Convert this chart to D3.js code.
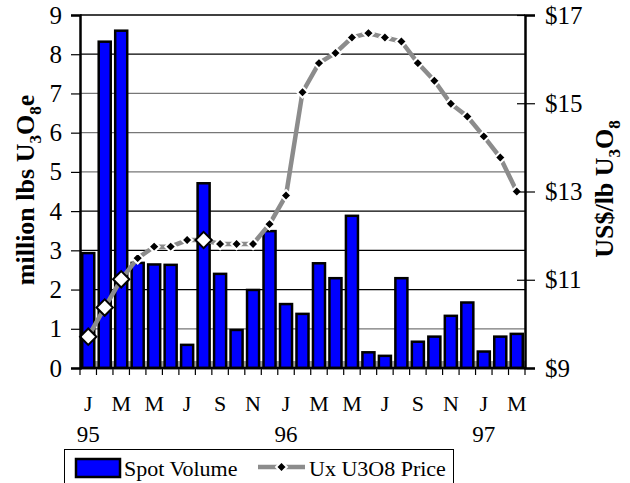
<!DOCTYPE html>
<html>
<head>
<meta charset="utf-8">
<script src="https://cdn.jsdelivr.net/npm/d3@7"></script>
<style>
  body { margin: 0; background: #fff; }
  svg { font-family: "Liberation Serif", "Times New Roman", serif; }
</style>
</head>
<body>
<svg width="630" height="483"></svg>
<script>
// monthly data Jan 95 - Mar 97
var months = ["J","F","M","A","M","J","J","A","S","O","N","D",
              "J","F","M","A","M","J","J","A","S","O","N","D",
              "J","F","M"];
var years = [{idx: 0, label: "95"}, {idx: 12, label: "96"}, {idx: 24, label: "97"}];
var spotVolume = [2.93, 8.32, 8.60, 2.68, 2.64, 2.63, 0.59, 4.71, 2.40, 0.97, 1.99, 3.49,
                  1.63, 1.38, 2.67, 2.29, 3.88, 0.40, 0.31, 2.29, 0.67, 0.80, 1.33, 1.67,
                  0.42, 0.80, 0.87];
var price = [9.71, 10.37, 11.01, 11.49, 11.75, 11.75, 11.90, 11.90, 11.81, 11.81, 11.81, 12.26,
             12.91, 15.25, 15.91, 16.14, 16.49, 16.59, 16.49, 16.40, 15.91, 15.51, 14.99, 14.70,
             14.25, 13.77, 13.00];
var hollowPoints = [0, 1, 2, 7];
var volTicks = [0,1,2,3,4,5,6,7,8,9];
var priceTicks = [9, 11, 13, 15, 17];

var svg = d3.select("svg");
var margin = {"top": 15, "bottom": 115, "left": 80, "right": 105};
var width = +svg.attr("width") - margin.left - margin.right;
var height = +svg.attr("height") - margin.top - margin.bottom;

var idx = d3.range(months.length);
var x = d3.scaleBand().domain(idx).range([0, width]).paddingInner(0.27).paddingOuter(0.135);
var xb = d3.scaleLinear().domain([0, months.length]).range([0, width]);
var y = d3.scaleLinear().domain([0, 9]).range([height, 0]);
var y2 = d3.scaleLinear().domain([9, 17]).range([height, 0]);

var g = svg.append("g")
    .attr("transform", "translate(" + margin.left + "," + margin.top + ")");

// grid lines
var darkGrid = [2, 3, 4, 8];
g.selectAll(".grid").data(volTicks.slice(1, 9)).enter()
  .append("line")
    .attr("x1", 0).attr("x2", width)
    .attr("y1", function(d) { return y(d); })
    .attr("y2", function(d) { return y(d); })
    .attr("stroke", function(d) { return darkGrid.indexOf(d) >= 0 ? "#000" : "#777"; })
    .attr("stroke-width", 1.2);

// top border
g.append("line").attr("x1", 0).attr("x2", width).attr("y1", 0).attr("y2", 0)
  .attr("stroke", "#000").attr("stroke-width", 1.5);

// grey floor band behind bars
g.append("rect").attr("x", 0).attr("y", height - 7).attr("width", width).attr("height", 6)
  .attr("fill", "#a0a0a0");

// bars
g.selectAll(".bar").data(spotVolume).enter()
  .append("rect")
    .attr("class", "bar")
    .attr("x", function(d, i) { return x(i); })
    .attr("y", function(d) { return y(d); })
    .attr("width", x.bandwidth())
    .attr("height", function(d) { return height - y(d); })
    .attr("fill", "#0000ff")
    .attr("stroke", "#000")
    .attr("stroke-width", 2.5);

// price line
var line = d3.line()
    .x(function(d, i) { return x(i) + x.bandwidth() / 2; })
    .y(function(d) { return y2(d); });

g.append("path")
    .datum(price)
    .attr("d", line)
    .attr("fill", "none")
    .attr("stroke", "#8c8c8c")
    .attr("stroke-width", 4.5);

var diamond = d3.symbol().type(d3.symbolDiamond2);
g.selectAll(".pt").data(price).enter()
  .append("path")
    .attr("class", "pt")
    .attr("transform", function(d, i) {
      return "translate(" + (x(i) + x.bandwidth() / 2) + "," + y2(d) + ")";
    })
    .attr("d", function(d, i) {
      return hollowPoints.indexOf(i) >= 0 ? diamond.size(170)() : diamond.size(75)();
    })
    .attr("fill", function(d, i) { return hollowPoints.indexOf(i) >= 0 ? "#fff" : "#000"; })
    .attr("stroke", function(d, i) { return hollowPoints.indexOf(i) >= 0 ? "#000" : "#fff"; })
    .attr("stroke-width", 2);

// left axis
var yAxis = g.append("g")
    .call(d3.axisLeft(y).tickValues(volTicks).tickSize(9).tickPadding(9));
yAxis.select(".domain").attr("stroke-width", 2.5);
yAxis.selectAll(".tick line").attr("stroke-width", 1.2);
yAxis.selectAll(".tick text").attr("font-size", "25px").attr("fill", "#000")
  .attr("font-family", "Liberation Serif");

// right axis
var y2Axis = g.append("g")
    .attr("transform", "translate(" + width + ",0)")
    .call(d3.axisRight(y2).tickValues(priceTicks).tickSize(10).tickPadding(10)
      .tickFormat(function(d) { return "$" + d; }));
y2Axis.select(".domain").attr("stroke-width", 2.5);
y2Axis.selectAll(".tick line").attr("x1", -8).attr("stroke-width", 1.2);
y2Axis.selectAll(".tick text").attr("font-size", "25px").attr("fill", "#000")
  .attr("font-family", "Liberation Serif");

// bottom baseline + month ticks
g.append("line").attr("x1", 0).attr("x2", width).attr("y1", height).attr("y2", height)
  .attr("stroke", "#000").attr("stroke-width", 2.5);
g.selectAll(".xt").data(d3.range(months.length + 1)).enter()
  .append("line")
    .attr("x1", function(d) { return xb(d); })
    .attr("x2", function(d) { return xb(d); })
    .attr("y1", height).attr("y2", height + 7)
    .attr("stroke", "#000").attr("stroke-width", 1.2);

g.selectAll(".mlab").data(idx.filter(function(i) { return i % 2 === 0; })).enter()
  .append("text")
    .attr("x", function(i) { return x(i) + x.bandwidth() / 2; })
    .attr("y", height + 43)
    .attr("text-anchor", "middle")
    .attr("font-size", "22px")
    .text(function(i) { return months[i]; });

g.selectAll(".ylab").data(years).enter()
  .append("text")
    .attr("x", function(d) { return x(d.idx) + x.bandwidth() / 2; })
    .attr("y", height + 74)
    .attr("text-anchor", "middle")
    .attr("font-size", "23px")
    .text(function(d) { return d.label; });

// axis titles
var t1 = svg.append("text")
    .attr("transform", "translate(34,190) rotate(-90)")
    .attr("text-anchor", "middle")
    .attr("font-size", "26px")
    .attr("font-weight", "bold");
t1.append("tspan").text("million lbs U");
t1.append("tspan").attr("font-size", "17px").attr("dy", 7).text("3");
t1.append("tspan").attr("dy", -7).text("O");
t1.append("tspan").attr("font-size", "17px").attr("dy", 7).text("8");
t1.append("tspan").attr("dy", -7).text("e");

var t2 = svg.append("text")
    .attr("transform", "translate(613,189) rotate(-90)")
    .attr("text-anchor", "middle")
    .attr("font-size", "26px")
    .attr("font-weight", "bold");
t2.append("tspan").text("US$/lb U");
t2.append("tspan").attr("font-size", "17px").attr("dy", 7).text("3");
t2.append("tspan").attr("dy", -7).text("O");
t2.append("tspan").attr("font-size", "17px").attr("dy", 7).text("8");

// legend
var lg = svg.append("g");
lg.append("rect").attr("x", 64.5).attr("y", 449.5).attr("width", 389).attr("height", 40)
  .attr("fill", "#fff").attr("stroke", "#000").attr("stroke-width", 1);
lg.append("rect").attr("x", 76).attr("y", 459).attr("width", 44).attr("height", 18)
  .attr("fill", "#0000ff").attr("stroke", "#000").attr("stroke-width", 2.5);
lg.append("text").attr("x", 124).attr("y", 476).attr("font-size", "22px").text("Spot Volume");
lg.append("line").attr("x1", 258).attr("x2", 305).attr("y1", 467).attr("y2", 467)
  .attr("stroke", "#8c8c8c").attr("stroke-width", 4.5);
lg.append("path").attr("transform", "translate(281.5,467)").attr("d", diamond.size(75)())
  .attr("fill", "#000").attr("stroke", "#fff").attr("stroke-width", 2);
lg.append("text").attr("x", 309).attr("y", 476).attr("font-size", "22px").text("Ux U3O8 Price");
</script>
</body>
</html>
